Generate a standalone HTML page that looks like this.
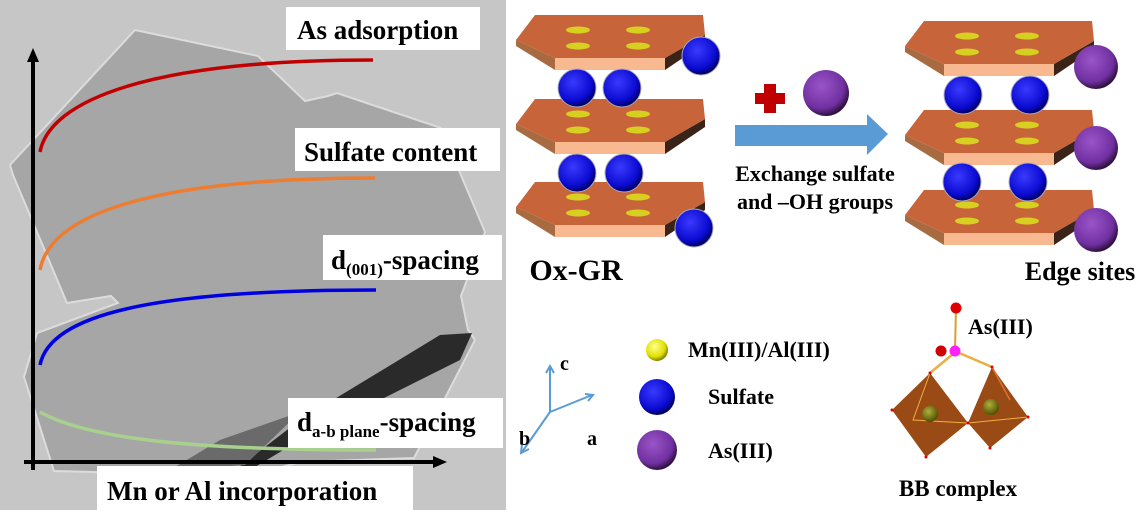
<!DOCTYPE html>
<html><head><meta charset="utf-8"><style>
html,body{margin:0;padding:0;background:#fff;}
svg{display:block;}
text{font-family:"Liberation Serif",serif;font-weight:bold;}
</style></head><body>
<svg width="1141" height="520" viewBox="0 0 1141 520" xmlns="http://www.w3.org/2000/svg">
<defs>
<radialGradient id="bl" cx="40%" cy="35%" r="65%"><stop offset="0" stop-color="#3a3aff"/><stop offset="0.75" stop-color="#0a0ad0"/><stop offset="1" stop-color="#000060"/></radialGradient>
<radialGradient id="pu" cx="40%" cy="35%" r="65%"><stop offset="0" stop-color="#9a55c8"/><stop offset="0.75" stop-color="#7030a0"/><stop offset="1" stop-color="#301040"/></radialGradient>
<radialGradient id="ye" cx="40%" cy="35%" r="65%"><stop offset="0" stop-color="#ffff90"/><stop offset="0.7" stop-color="#e0e000"/><stop offset="1" stop-color="#808000"/></radialGradient>
<radialGradient id="ol" cx="40%" cy="35%" r="65%"><stop offset="0" stop-color="#b0b040"/><stop offset="1" stop-color="#505000"/></radialGradient>
<g id="sheet">
<polygon points="0,25 39,43 39,55 0,31" fill="#a86a40"/>
<polygon points="39,43 149,43 149,55 39,55" fill="#f8b890"/>
<polygon points="149,43 189,20 189,28 149,55" fill="#3a2418"/>
<polygon points="0,25 19,0 187,0 189,20 149,43 39,43" fill="#c8643a"/>
<ellipse cx="62" cy="15" rx="12" ry="3.5" fill="#d8d020"/>
<ellipse cx="122" cy="15" rx="12" ry="3.5" fill="#d8d020"/>
<ellipse cx="62" cy="31" rx="12" ry="3.5" fill="#d8d020"/>
<ellipse cx="122" cy="31" rx="12" ry="3.5" fill="#d8d020"/>
</g>
</defs>
<!-- left TEM panel -->
<rect x="0" y="0" width="506" height="512" fill="#c6c6c6"/>
<polygon points="10,165 135,30 258,56 305,101 328,96 337,93 441,128 485,232 461,296 468,330 475,340 414,458 300,462 250,476 54,471 24,377 37,333 118,303 111,296 67,303 13,175" fill="#a6a6a6" stroke="#dcdcdc" stroke-width="2"/>
<polygon points="235,470 300,420 440,335 472,333 460,360 300,440 250,470" fill="#2a2a2a"/>
<polygon points="170,470 220,440 300,412 245,465" fill="#6a6a6a"/>
<rect x="0" y="510" width="506" height="10" fill="#fff"/>
<rect x="506" y="0" width="4" height="520" fill="#fff"/>
<!-- axes -->
<line x1="33" y1="470" x2="33" y2="58" stroke="#000" stroke-width="4"/>
<polygon points="33,48 27,62 39,62" fill="#000"/>
<line x1="24" y1="462" x2="435" y2="462" stroke="#000" stroke-width="4"/>
<polygon points="447,462 433,456 433,468" fill="#000"/>
<!-- curves -->
<path d="M40,152 C50,100 150,60 373,60" fill="none" stroke="#c00000" stroke-width="3.5"/>
<path d="M40,270 C50,215 150,178 375,178" fill="none" stroke="#ed7d31" stroke-width="3.5"/>
<path d="M40,365 C50,315 150,290 376,290" fill="none" stroke="#0000e0" stroke-width="3.5"/>
<path d="M40,412 C90,440 200,450 376,450" fill="none" stroke="#a9d18e" stroke-width="3.5"/>
<!-- label boxes -->
<rect x="286" y="7" width="194" height="43" fill="#fff"/>
<text x="297" y="39" font-size="27">As adsorption</text>
<rect x="295" y="128" width="205" height="43" fill="#fff"/>
<text x="304" y="161" font-size="27">Sulfate content</text>
<rect x="323" y="235" width="179" height="45" fill="#fff"/>
<text x="331" y="269" font-size="27">d<tspan font-size="17" dy="6">(001)</tspan><tspan dy="-6">-spacing</tspan></text>
<rect x="288" y="398" width="215" height="50" fill="#fff"/>
<text x="297" y="431" font-size="27">d<tspan font-size="17" dy="6">a-b plane</tspan><tspan dy="-6">-spacing</tspan></text>
<rect x="97" y="466" width="316" height="45" fill="#fff"/>
<text x="107" y="500" font-size="27">Mn or Al incorporation</text>
<!-- left stack -->
<use href="#sheet" x="516" y="15"/>
<use href="#sheet" x="516" y="99"/>
<use href="#sheet" x="516" y="182"/>
<circle cx="577" cy="88" r="19" fill="url(#bl)" stroke="#aab" stroke-width="1"/>
<circle cx="622" cy="88" r="19" fill="url(#bl)" stroke="#aab" stroke-width="1"/>
<circle cx="577" cy="173" r="19" fill="url(#bl)" stroke="#aab" stroke-width="1"/>
<circle cx="624" cy="173" r="19" fill="url(#bl)" stroke="#aab" stroke-width="1"/>
<circle cx="701" cy="56" r="19" fill="url(#bl)" stroke="#aab" stroke-width="1"/>
<circle cx="694" cy="228" r="19" fill="url(#bl)" stroke="#aab" stroke-width="1"/>
<text x="576" y="280" font-size="30" text-anchor="middle">Ox-GR</text>
<!-- plus, purple, arrow -->
<rect x="755" y="93" width="30" height="11" fill="#c00000"/>
<rect x="764" y="84" width="12" height="29" fill="#c00000"/>
<circle cx="826" cy="93" r="23" fill="url(#pu)"/>
<polygon points="735,125 867,125 867,114 888,134 867,155 867,146 735,146" fill="#5b9bd5"/>
<text x="815" y="181" font-size="22" text-anchor="middle">Exchange sulfate</text>
<text x="815" y="209" font-size="22" text-anchor="middle">and –OH groups</text>
<!-- right stack -->
<use href="#sheet" x="905" y="21"/>
<use href="#sheet" x="905" y="110"/>
<use href="#sheet" x="905" y="190"/>
<circle cx="963" cy="95" r="19" fill="url(#bl)" stroke="#aab" stroke-width="1"/>
<circle cx="1030" cy="95" r="19" fill="url(#bl)" stroke="#aab" stroke-width="1"/>
<circle cx="962" cy="182" r="19" fill="url(#bl)" stroke="#aab" stroke-width="1"/>
<circle cx="1028" cy="182" r="19" fill="url(#bl)" stroke="#aab" stroke-width="1"/>
<circle cx="1096" cy="67" r="22" fill="url(#pu)"/>
<circle cx="1096" cy="148" r="22" fill="url(#pu)"/>
<circle cx="1096" cy="230" r="22" fill="url(#pu)"/>
<text x="1080" y="280" font-size="26" text-anchor="middle">Edge sites</text>
<!-- axes legend -->
<g stroke="#5b9bd5" stroke-width="2" fill="none">
<line x1="550" y1="412" x2="550" y2="367"/><polyline points="546,373 550,366 554,373"/>
<line x1="550" y1="412" x2="592" y2="395"/><polyline points="585,394 593,395 588,401"/>
<line x1="550" y1="412" x2="522" y2="452"/><polyline points="522,444 521,453 529,449"/>
</g>
<text x="560" y="370" font-size="20">c</text>
<text x="587" y="445" font-size="20">a</text>
<text x="519" y="445" font-size="20">b</text>
<circle cx="657" cy="350" r="11" fill="url(#ye)"/>
<text x="688" y="357" font-size="22">Mn(III)/Al(III)</text>
<circle cx="657" cy="397" r="18" fill="url(#bl)"/>
<text x="708" y="404" font-size="22">Sulfate</text>
<circle cx="657" cy="450" r="20" fill="url(#pu)"/>
<text x="708" y="458" font-size="22">As(III)</text>
<!-- BB complex -->
<line x1="956" y1="308" x2="955" y2="350" stroke="#d8a030" stroke-width="2"/>
<line x1="953" y1="354" x2="930" y2="373" stroke="#e8b040" stroke-width="2.5"/>
<line x1="957" y1="352" x2="992" y2="367" stroke="#e8b040" stroke-width="2.5"/>
<polygon points="892,410 930,373 968,423 926,457" fill="#9a4a14"/>
<polygon points="968,423 992,367 1028,417 990,448" fill="#9a4a14"/>
<polyline points="930,373 913,420 968,423 1028,417" fill="none" stroke="#f0b040" stroke-width="1"/>
<line x1="992" y1="367" x2="1010" y2="400" stroke="#e07030" stroke-width="1.5"/>
<circle cx="930" cy="414" r="8" fill="url(#ol)"/>
<circle cx="991" cy="407" r="8" fill="url(#ol)"/>
<g fill="#e00000"><circle cx="892" cy="410" r="1.5"/><circle cx="930" cy="373" r="1.5"/><circle cx="968" cy="423" r="1.5"/><circle cx="926" cy="457" r="1.5"/><circle cx="992" cy="367" r="1.5"/><circle cx="1028" cy="417" r="1.5"/><circle cx="990" cy="448" r="1.5"/></g>
<circle cx="956" cy="308" r="5.5" fill="#e00000"/>
<circle cx="941" cy="351" r="5.5" fill="#d00000"/>
<circle cx="955" cy="351" r="5.5" fill="#ff20ff"/>
<text x="968" y="334" font-size="22">As(III)</text>
<text x="958" y="496" font-size="23" text-anchor="middle">BB complex</text>
</svg>
</body></html>
